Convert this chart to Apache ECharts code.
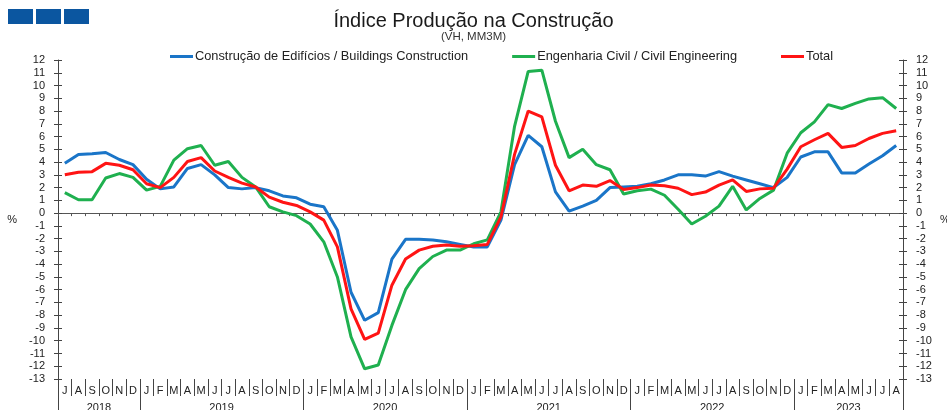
<!DOCTYPE html>
<html>
<head>
<meta charset="utf-8">
<title>Índice Produção na Construção</title>
<script src="https://cdn.jsdelivr.net/npm/echarts@6/dist/echarts.min.js"></script>
<style>
    html, body { margin: 0; padding: 0; background: #fff; }
    #chart { width: 947px; height: 410px; }
</style>
</head>
<body>
<div id="chart"></div>
<script>
// month letters, Jul 2018 .. Aug 2023
const months = [
    'J', 'A', 'S', 'O', 'N', 'D',
    'J', 'F', 'M', 'A', 'M', 'J', 'J', 'A', 'S', 'O', 'N', 'D',
    'J', 'F', 'M', 'A', 'M', 'J', 'J', 'A', 'S', 'O', 'N', 'D',
    'J', 'F', 'M', 'A', 'M', 'J', 'J', 'A', 'S', 'O', 'N', 'D',
    'J', 'F', 'M', 'A', 'M', 'J', 'J', 'A', 'S', 'O', 'N', 'D',
    'J', 'F', 'M', 'A', 'M', 'J', 'J', 'A'
];
const years = ['2018', '2019', '2020', '2021', '2022', '2023'];
const monthsPerYear = [6, 12, 12, 12, 12, 8];

const seriesNames = [
    'Construção de Edifícios / Buildings Construction',
    'Engenharia Civil / Civil Engineering',
    'Total'
];

const buildings = [
    3.9, 4.6, 4.65, 4.75, 4.2, 3.8,
    2.65, 1.9, 2.05, 3.5, 3.8, 3.0, 2.0, 1.9, 2.0, 1.75, 1.35, 1.2,
    0.7, 0.5, -1.35, -6.2, -8.4, -7.8, -3.6, -2.05, -2.05, -2.1, -2.25, -2.45,
    -2.65, -2.65, -0.55, 3.8, 6.1, 5.2, 1.67, 0.15, 0.55, 1.0, 2.0, 2.05,
    2.1, 2.3, 2.6, 3.0, 3.0, 2.9, 3.25, 2.9, 2.6, 2.3, 2.0, 2.8,
    4.4, 4.8, 4.8, 3.15, 3.15, 3.85, 4.5, 5.3
];
const civil = [
    1.6, 1.05, 1.05, 2.75, 3.1, 2.8,
    1.8, 2.1, 4.15, 5.05, 5.3, 3.75, 4.05, 2.8, 2.05, 0.5, 0.1, -0.2,
    -0.85, -2.25, -5.0, -9.7, -12.2, -11.9, -8.8, -6.0, -4.35, -3.4, -2.9, -2.9,
    -2.4, -2.1, 0.1, 6.8, 11.1, 11.2, 7.2, 4.35, 5.0, 3.8, 3.4, 1.5,
    1.75, 1.88, 1.4, 0.3, -0.85, -0.25, 0.55, 2.1, 0.25, 1.15, 1.8, 4.7,
    6.3, 7.15, 8.5, 8.2, 8.6, 8.95, 9.05, 8.2
];
const total = [
    3.0, 3.2, 3.25, 3.9, 3.75, 3.4,
    2.3, 2.0, 2.8, 4.05, 4.35, 3.3, 2.8, 2.35, 2.05, 1.25, 0.85, 0.6,
    0.1, -0.55, -2.65, -7.5, -9.9, -9.4, -5.65, -3.6, -2.9, -2.6, -2.5, -2.6,
    -2.55, -2.45, -0.3, 4.6, 8.0, 7.55, 3.75, 1.75, 2.2, 2.1, 2.55, 1.85,
    2.0, 2.2, 2.15, 1.95, 1.45, 1.65, 2.2, 2.6, 1.7, 1.9, 1.95, 3.45,
    5.2, 5.75, 6.25, 5.15, 5.3, 5.85, 6.25, 6.45
];

const colors = ['#1a75c8', '#1fb04f', '#ff1414'];
const font = "'Liberation Sans', Arial, sans-serif";

// year boundaries and mid points, in month units
const yearEdges = [0];
monthsPerYear.forEach(n => yearEdges.push(yearEdges[yearEdges.length - 1] + n));
const yearMids = years.map((y, i) => (yearEdges[i] + yearEdges[i + 1]) / 2);

const chart = echarts.init(document.getElementById('chart'));

const yAxisBase = (position, inside, withLabels) => ({
    type: 'value',
    position,
    min: -13,
    max: 12,
    interval: 1,
    axisLine: { show: withLabels, onZero: false, lineStyle: { color: '#444', width: 1 } },
    axisTick: { show: true, inside, length: 4, lineStyle: { color: '#444' } },
    axisLabel: { show: withLabels, margin: 13, fontSize: 11, color: '#222', fontFamily: font },
    splitLine: { show: false }
});

const leftY = Object.assign(yAxisBase('left', false, true), {
    name: '%', nameLocation: 'middle', nameRotate: 0, nameGap: 41,
    nameTextStyle: { fontSize: 11, color: '#222', fontFamily: font }
});
const rightY = Object.assign(yAxisBase('right', false, true), {
    name: '%', nameLocation: 'middle', nameRotate: 0, nameGap: 37,
    nameTextStyle: { fontSize: 11, color: '#222', fontFamily: font }
});

chart.setOption({
    animation: false,
    textStyle: { fontFamily: font },
    title: {
        text: 'Índice Produção na Construção',
        subtext: '(VH, MM3M)',
        left: 'center',
        top: 6,
        itemGap: 0,
        textStyle: { fontSize: 20, fontWeight: 'normal', color: '#1a1a1a', fontFamily: font },
        subtextStyle: { fontSize: 11.5, color: '#333', fontFamily: font }
    },
    graphic: [
        { type: 'rect', left: 8, top: 9, shape: { width: 25, height: 15 }, style: { fill: '#0b56a0' } },
        { type: 'rect', left: 36, top: 9, shape: { width: 25, height: 15 }, style: { fill: '#0b56a0' } },
        { type: 'rect', left: 64, top: 9, shape: { width: 25, height: 15 }, style: { fill: '#0b56a0' } }
    ],
    legend: {
        top: 45,
        left: 165,
        icon: 'rect',
        itemWidth: 23,
        itemHeight: 3,
        itemGap: 44,
        textStyle: { fontSize: 12.8, color: '#222', fontFamily: font, padding: [0, 0, 0, -3] },
        data: seriesNames
    },
    grid: { left: 58, right: 44, top: 60, bottom: 31, outerBoundsMode: 'none' },
    xAxis: [
        {
            type: 'category',
            data: months,
            axisLine: { onZero: true, lineStyle: { color: '#555', width: 1 } },
            axisTick: { show: true, interval: 0, length: 3, lineStyle: { color: '#555' } },
            axisLabel: { show: false },
            splitLine: { show: false }
        },
        {
            type: 'category',
            data: months,
            position: 'bottom',
            axisLine: { show: false, onZero: false },
            axisTick: { show: true, interval: 0, length: 17, lineStyle: { color: '#444' } },
            axisLabel: { interval: 0, margin: 6, fontSize: 11, color: '#222', fontFamily: font },
            splitLine: { show: false }
        },
        {
            type: 'value',
            min: 0,
            max: yearEdges[yearEdges.length - 1],
            position: 'bottom',
            axisLine: { show: false, onZero: false },
            axisTick: { show: true, customValues: yearEdges, length: 34, lineStyle: { color: '#444' } },
            axisLabel: {
                customValues: yearMids,
                formatter: v => years[yearMids.indexOf(v)] || '',
                margin: 23,
                fontSize: 11,
                color: '#222',
                fontFamily: font
            },
            splitLine: { show: false }
        }
    ],
    yAxis: [
        leftY,
        yAxisBase('left', true, false),
        rightY,
        yAxisBase('right', true, false)
    ],
    series: [buildings, civil, total].map((data, i) => ({
        name: seriesNames[i],
        type: 'line',
        xAxisIndex: 0,
        yAxisIndex: 0,
        data,
        showSymbol: false,
        symbol: 'none',
        lineStyle: { color: colors[i], width: 3 },
        itemStyle: { color: colors[i] },
        z: 3 + i
    }))
});
</script>
</body>
</html>
